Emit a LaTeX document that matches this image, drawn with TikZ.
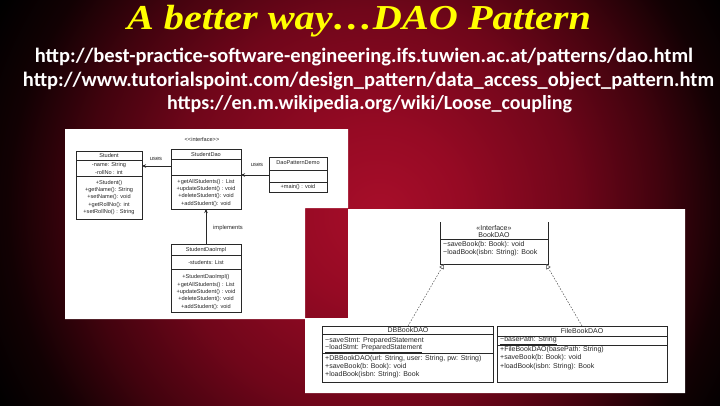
\documentclass[tikz,border=0pt]{standalone}
\usepackage{fontspec}
\setmainfont{Liberation Serif}
\newfontfamily\urlfont{Carlito}
\newfontfamily\umlfont{Liberation Sans}
\usetikzlibrary{arrows.meta,calc}
\definecolor{bgc0}{RGB}{168,14,42}
\definecolor{bgc1}{RGB}{150,10,36}
\definecolor{bgc2}{RGB}{112,6,26}
\definecolor{bgc3}{RGB}{66,3,14}
\definecolor{bgc4}{RGB}{18,1,3}
\definecolor{umlline}{RGB}{40,40,40}
\definecolor{titleyellow}{RGB}{255,255,0}
\pgfdeclareradialshading{bgshade}{\pgfpoint{1.4bp}{-0.9bp}}{color(0bp)=(bgc0); color(6bp)=(bgc1); color(14bp)=(bgc2); color(20bp)=(bgc3); color(25bp)=(bgc4); color(29bp)=(black); color(40bp)=(black)}
\tikzset{
  umlbox/.style={draw=umlline, line width=0.7pt, fill=white, anchor=north west, inner sep=0pt, outer sep=0pt},
  ltxt/.style={font=\umlfont\fontsize{5.6}{6}\selectfont, text=black!85, inner sep=0pt, anchor=center},
  rtxt/.style={font=\umlfont\fontsize{7}{8}\selectfont, text=black!85, inner sep=0pt, anchor=west},
  rctr/.style={font=\umlfont\fontsize{7}{8}\selectfont, text=black!85, inner sep=0pt, anchor=center},
  divl/.style={draw=umlline, line width=0.7pt},
  usesarr/.style={draw=umlline, line width=0.9pt, -{Stealth[length=4pt,width=3.5pt]}},
  realarr/.style={draw=black!70, line width=0.5pt, dash pattern=on 1.5pt off 1.5pt, -{Triangle[open,length=5pt,width=5pt,fill=white]}},
  urltxt/.style={font=\urlfont\bfseries\fontsize{20.5}{22}\selectfont, text=white, inner sep=0pt, anchor=center},
}
\begin{document}
\begin{tikzpicture}[x=1pt,y=-1pt]
\useasboundingbox (0,0) rectangle (720,405);
\begin{scope}
\clip (0,0) rectangle (720,405);
\shade[shading=bgshade] (0,-157.5) rectangle (720,562.5);
\end{scope}

% title and links
\node[font=\bfseries\itshape\fontsize{35}{38}\selectfont, text=titleyellow, inner sep=0pt, xscale=1.15] (title) at (359,21) {A better way…DAO Pattern};
\node[urltxt] (url1) at (364,57) {http://best-practice-software-engineering.ifs.tuwien.ac.at/patterns/dao.html};
\node[urltxt] (url2) at (368.5,81) {http://www.tutorialspoint.com/design\_pattern/data\_access\_object\_pattern.htm};
\node[urltxt, font=\urlfont\bfseries\fontsize{20}{22}\selectfont] (url3) at (369.5,104) {https://en.m.wikipedia.org/wiki/Loose\_coupling};

% white panels
\fill[white] (65,129) -| (348,208) -| (305,319) -| cycle;
\fill[white] (348,209) -| (685,393) -| (305,318) -- (348,318) -- cycle;

% ===== left diagram =====
\node[ltxt] (iface) at (202,139) {<<interface>>};

\node[umlbox, minimum width=66pt, minimum height=68pt] (stud) at (76,151) {};
\draw[divl] (76,160) -- (142,160);
\draw[divl] (76,176) -- (142,176);
\node[ltxt] (studh) at (109,155.5) {Student};
\node[ltxt] (studa1) at (109,165) {-name: String};
\node[ltxt] (studa2) at (109,172) {-rollNo : int};
\node[ltxt] (studm1) at (109,183) {+Student()};
\node[ltxt] (studm2) at (109,190) {+getName(): String};
\node[ltxt] (studm3) at (109,197.5) {+setName(): void};
\node[ltxt] (studm4) at (109,205) {+getRollNo(): int};
\node[ltxt] (studm5) at (109,212.5) {+setRollNo() : String};

\node[umlbox, minimum width=70pt, minimum height=60pt] (sdao) at (171,149) {};
\draw[divl] (171,159) -- (241,159);
\draw[divl] (171,175) -- (241,175);
\node[ltxt] (sdaoh) at (206,154) {StudentDao};
\node[ltxt] (sdaom1) at (206,182) {+getAllStudents() : List};
\node[ltxt] (sdaom2) at (206,189) {+updateStudent() : void};
\node[ltxt] (sdaom3) at (206,196) {+deleteStudent(): void};
\node[ltxt] (sdaom4) at (206,204) {+addStudent(): void};

\node[umlbox, minimum width=58pt, minimum height=35pt] (demo) at (269,157) {};
\draw[divl, line width=1.2pt] (269,170.5) -- (327,170.5);
\draw[divl] (269,182) -- (327,182);
\node[ltxt] (demoh) at (298,163) {DaoPatternDemo};
\node[ltxt] (demom) at (298,187) {+main() : void};

\node[umlbox, minimum width=70pt, minimum height=68pt] (impl) at (171,244) {};
\draw[divl] (171,255) -- (241,255);
\draw[divl] (171,269) -- (241,269);
\node[ltxt] (implh) at (206,250) {StudentDaoImpl};
\node[ltxt] (impla) at (206,262.5) {-students: List};
\node[ltxt] (implm1) at (206,277.5) {+StudentDaoImpl()};
\node[ltxt] (implm2) at (206,285) {+getAllStudents() : List};
\node[ltxt] (implm3) at (206,292) {+updateStudent() : void};
\node[ltxt] (implm4) at (206,299.5) {+deleteStudent(): void};
\node[ltxt] (implm5) at (206,307) {+addStudent(): void};

\coordinate (u1s) at (sdao.west |- 0,166);
\coordinate (u1e) at (stud.east |- 0,166);
\draw[usesarr] (u1s) -- (u1e);
\node[ltxt, font=\umlfont\fontsize{5.8}{6}\selectfont] (uses1) at (156,159) {uses};
\coordinate (u2s) at (demo.west |- 0,175);
\coordinate (u2e) at (sdao.east |- 0,175);
\draw[usesarr] (u2s) -- (u2e);
\node[ltxt, font=\umlfont\fontsize{5.8}{6}\selectfont] (uses2) at (257,165) {uses};
\draw[usesarr] (impl.north) -- (sdao.south);
\node[ltxt, font=\umlfont\fontsize{5.8}{6}\selectfont] (impl_lbl) at (228,228) {implements};

% ===== right diagram =====
\node[umlbox, draw=none, minimum width=108pt, minimum height=42pt] (book) at (440,222) {};
\draw[divl, line width=0.6pt] (book.north west) -- (book.south west) -- (book.south east) -- (book.north east);
\draw[divl, line width=0.6pt] (440,239) -- (548,239);
\node[rctr] (booki) at (494,227.5) {«Interface»};
\node[rctr] (bookn) at (494,234.5) {BookDAO};
\node[rtxt] (bookm1) at (443,245) {−saveBook(b: Book): void};
\node[rtxt] (bookm2) at (443,253) {−loadBook(isbn: String): Book};

\node[umlbox, line width=0.6pt, minimum width=171pt, minimum height=56pt] (db) at (322,326) {};
\draw[divl, line width=0.6pt] (322,334) -- (493,334);
\draw[divl, line width=0.6pt] (322,353) -- (493,353);
\node[rctr] (dbh) at (408,330) {DBBookDAO};
\node[rtxt] (dba1) at (325,341) {−saveStmt: PreparedStatement};
\node[rtxt] (dba2) at (325,349) {\underline{−loadStmt: PreparedStatement}};
\node[rtxt] (dbm1) at (325,359) {+DBBookDAO(url: String, user: String, pw: String)};
\node[rtxt] (dbm2) at (325,367) {+saveBook(b: Book): void};
\node[rtxt] (dbm3) at (325,374.5) {+loadBook(isbn: String): Book};

\node[umlbox, line width=0.6pt, minimum width=170pt, minimum height=56pt] (file) at (497,326) {};
\draw[divl, line width=0.6pt] (497,336) -- (667,336);
\draw[divl, line width=0.6pt] (497,345) -- (667,345);
\node[rctr] (fileh) at (582,331) {FileBookDAO};
\node[rtxt] (filea) at (500,340.5) {\underline{−basePath: String}};
\node[rtxt] (filem1) at (500,350) {+FileBookDAO(basePath: String)};
\node[rtxt] (filem2) at (500,358) {+saveBook(b: Book): void};
\node[rtxt] (filem3) at (500,366.5) {+loadBook(isbn: String): Book};

\coordinate (r1s) at (408,326);
\coordinate (r1e) at (444,264);
\draw[realarr] (r1s) -- (r1e);
\coordinate (r2s) at (582,326);
\coordinate (r2e) at (546,264);
\draw[realarr] (r2s) -- (r2e);
\end{tikzpicture}
\end{document}
